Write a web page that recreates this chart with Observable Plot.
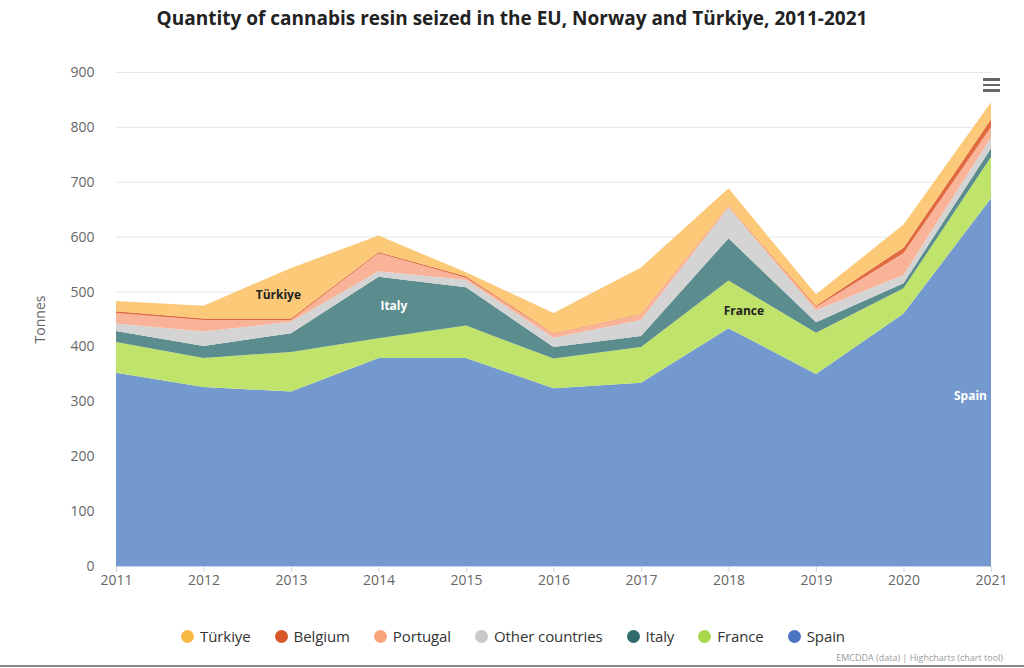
<!DOCTYPE html>
<html>
<head>
<meta charset="utf-8">
<script src="https://cdn.jsdelivr.net/npm/d3@7"></script>
<script src="https://cdn.jsdelivr.net/npm/@observablehq/plot@0.6"></script>
<style>
  body { margin:0; background:#fff; font-family:"Open Sans", sans-serif; width:1024px; height:668px; overflow:hidden; position:relative; }
  #title { position:absolute; top:5px; left:0; width:1024px; text-align:center; font-weight:700; font-size:19px; color:#222; }
  #chart { position:absolute; top:40px; left:0; }
  #legend { position:absolute; top:626px; left:1px; width:1024px; display:flex; justify-content:center; align-items:center; gap:24px; font-size:15px; color:#333; letter-spacing:-0.1px; }
  .item { display:flex; align-items:center; gap:6px; }
  .dot { width:13px; height:13px; border-radius:50%; display:inline-block; }
  #caption { position:absolute; top:651px; right:21px; font-size:9px; color:#999; }
  #menu { position:absolute; left:983px; top:78px; width:17px; }
  #menu div { height:2.5px; background:#666; margin-bottom:3px; }
  #bottomline { position:absolute; left:0; top:665px; width:1024px; height:2px; background:#888; }
</style>
</head>
<body>
<div id="title">Quantity of cannabis resin seized in the EU, Norway and Türkiye, 2011-2021</div>
<div id="chart"></div>
<div id="menu"><div></div><div></div><div></div></div>
<div id="legend"></div>
<div id="caption">EMCDDA (data) | Highcharts (chart tool)</div>
<div id="bottomline"></div>
<script>
// ---- data ----
const years = [2011, 2012, 2013, 2014, 2015, 2016, 2017, 2018, 2019, 2020, 2021];
const countries = ["Spain", "France", "Italy", "Other countries", "Portugal", "Belgium", "Türkiye"];
const spain    = [352, 326, 318, 379, 379, 324, 334, 433, 350, 460, 670];
const france   = [56, 53, 72, 36, 59, 54, 65, 87, 75, 46, 75];
const italy    = [20, 22, 34, 112, 70, 21, 20, 77, 19, 9, 16];
const other    = [14, 26, 21, 10, 13, 17, 29, 56, 22, 15, 20];
const portugal = [19, 21, 3, 33, 4, 7, 10, 2, 6, 40, 19];
const belgium  = [3, 3, 3, 2, 3, 1, 1, 1, 2, 10, 14];
const turkiye  = [19, 23, 92, 30, 7, 37, 85, 32, 21, 42, 31];
const yTicks = [0, 100, 200, 300, 400, 500, 600, 700, 800, 900];
const legendOrder = ["Türkiye", "Belgium", "Portugal", "Other countries", "Italy", "France", "Spain"];
// in-area labels
const labelNames  = ["Türkiye", "Italy", "France", "Spain"];
const labelYears  = [2012.85, 2014.17, 2018.17, 2020.76];
const labelValues = [494, 474, 465, 310];

// ---- styling ----
const areaColors   = ["#7399ce", "#c0e36c", "#5b8c8e", "#d4d4d4", "#f9b398", "#e06a3e", "#fbc978"];
const legendColors = {"Türkiye":"#f7b844", "Belgium":"#d9582a", "Portugal":"#f9a47c", "Other countries":"#c9c9c9", "Italy":"#2e6b6d", "France":"#a8d84a", "Spain":"#4a74c1"};

const seriesValues = [spain, france, italy, other, portugal, belgium, turkiye];
const rows = [];
countries.forEach((c, i) => seriesValues[i].forEach((v, j) => rows.push({year: years[j], country: c, value: v})));
const labels = labelNames.map((n, i) => ({name: n, year: labelYears[i], value: labelValues[i]}));
const darkLabels = labels.filter(d => d.name === "Türkiye" || d.name === "France");
const lightLabels = labels.filter(d => d.name === "Italy" || d.name === "Spain");

const chart = Plot.plot({
  width: 1024,
  height: 565,
  marginTop: 32,
  marginBottom: 39,
  marginLeft: 116,
  marginRight: 33,
  style: {fontFamily: "'Open Sans', sans-serif", fontSize: "14px", color: "#666", background: "transparent", overflow: "visible"},
  x: {domain: [2011, 2021]},
  y: {domain: [0, 900]},
  color: {domain: countries, range: areaColors},
  marks: [
    Plot.gridY(yTicks, {stroke: "#e6e6e6", strokeOpacity: 1}),
    Plot.areaY(rows, {x: "year", y: "value", z: "country", fill: "country", order: countries, fillOpacity: 1}),
    Plot.ruleY([0], {stroke: "#ccd6eb"}),
    Plot.axisX(years, {tickFormat: d => String(d), tickSize: 6, stroke: "#ccd6eb", tickPadding: 3, fill: "#666", fontSize: 14, label: null}),
    Plot.axisY(yTicks, {tickSize: 0, tickPadding: 22, fill: "#666", fontSize: 14, label: "Tonnes", labelAnchor: "center", labelOffset: 81, labelArrow: false}),
    Plot.text(darkLabels, {x: "year", y: "value", text: "name", fill: "#222", fontWeight: "bold", fontSize: 12}),
    Plot.text(lightLabels, {x: "year", y: "value", text: "name", fill: "#fff", fontWeight: "bold", fontSize: 12})
  ]
});
document.getElementById("chart").appendChild(chart);

const legend = document.getElementById("legend");
legendOrder.forEach(name => {
  const item = document.createElement("div");
  item.className = "item";
  const dot = document.createElement("span");
  dot.className = "dot";
  dot.style.background = legendColors[name];
  const txt = document.createElement("span");
  txt.textContent = name;
  item.appendChild(dot);
  item.appendChild(txt);
  legend.appendChild(item);
});
</script>
</body>
</html>
